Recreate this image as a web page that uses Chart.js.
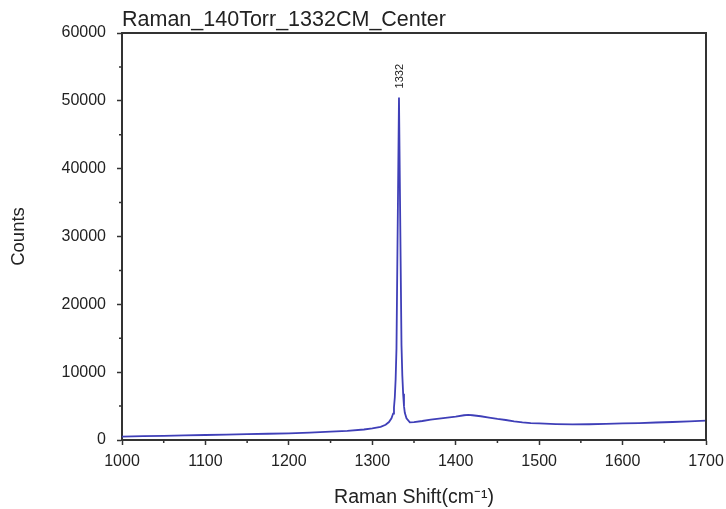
<!DOCTYPE html>
<html lang="en">
<head>
    <meta charset="UTF-8">
    <title>Raman_140Torr_1332CM_Center</title>
    <script src="https://cdn.jsdelivr.net/npm/chart.js"></script>
    <style>
        body { margin: 0; background: #fff; }
        #wrap { width: 726px; height: 509px; }
    </style>
</head>
<body>
    <div id="wrap">
        <canvas id="ramanChart" width="726" height="509"></canvas>
    </div>

    <script>
        // Spectrum
        const ramanShift = [1000, 1025, 1050, 1075, 1100, 1125, 1150, 1175, 1200, 1225, 1250, 1270, 1290, 1300,
            1310, 1316, 1320, 1323, 1325, 1326, 1327, 1328, 1329, 1332, 1335, 1336, 1337, 1338, 1339, 1341,
            1345, 1350, 1360, 1370, 1380, 1390, 1400, 1410, 1415, 1420, 1430, 1440, 1450, 1460, 1470, 1480,
            1490, 1500, 1520, 1540, 1560, 1580, 1600, 1620, 1640, 1660, 1680, 1700];
        const counts = [500, 560, 620, 680, 740, 800, 860, 920, 990, 1090, 1220, 1350, 1550, 1700,
            1950, 2250, 2650, 3200, 3900, 4800, 6300, 9000, 13500, 50500, 14000, 9500, 6800, 5000, 4000, 3200,
            2600, 2650, 2800, 3000, 3150, 3300, 3450, 3650, 3700, 3650, 3500, 3300, 3100, 2950, 2750, 2600,
            2500, 2450, 2350, 2300, 2320, 2380, 2450, 2500, 2580, 2650, 2750, 2850];

        const chartTitle = 'Raman_140Torr_1332CM_Center';
        const peakPos = 1332;
        const peakLabel = '1332';
        const minorX = [1050, 1150, 1250, 1350, 1450, 1550, 1650];
        const minorY = [5000, 15000, 25000, 35000, 45000, 55000];

        const fontFam = '"Liberation Sans", Arial, sans-serif';
        const axisColor = '#333';
        const textColor = '#222';

        // frame, minor ticks, title and peak label
        const extras = {
            id: 'extras',
            afterDraw(chart) {
                const { ctx, chartArea: a, scales: { x, y } } = chart;
                ctx.save();
                ctx.strokeStyle = axisColor;
                ctx.lineWidth = 2;
                ctx.beginPath();
                ctx.moveTo(a.left, a.top);
                ctx.lineTo(a.right, a.top);
                ctx.lineTo(a.right, a.bottom);
                ctx.stroke();

                ctx.lineWidth = 1.5;
                ctx.beginPath();
                minorX.forEach(v => {
                    const px = x.getPixelForValue(v);
                    ctx.moveTo(px, a.bottom);
                    ctx.lineTo(px, a.bottom + 3);
                });
                minorY.forEach(v => {
                    const py = y.getPixelForValue(v);
                    ctx.moveTo(a.left, py);
                    ctx.lineTo(a.left - 3, py);
                });
                ctx.stroke();

                ctx.fillStyle = textColor;
                ctx.font = '21.5px ' + fontFam;
                ctx.textAlign = 'left';
                ctx.textBaseline = 'alphabetic';
                ctx.fillText(chartTitle, a.left, a.top - 7);

                const i = ramanShift.indexOf(peakPos);
                const px = x.getPixelForValue(peakPos);
                const py = y.getPixelForValue(counts[i]);
                ctx.translate(px + 1, py - 9);
                ctx.rotate(-Math.PI / 2);
                ctx.font = '11px ' + fontFam;
                ctx.textBaseline = 'middle';
                ctx.fillText(peakLabel, 0, 0);
                ctx.restore();
            }
        };

        new Chart(document.getElementById('ramanChart'), {
            type: 'line',
            data: {
                datasets: [{
                    data: ramanShift.map((v, i) => ({ x: v, y: counts[i] })),
                    borderColor: '#3f3fb8',
                    borderWidth: 1.8,
                    pointRadius: 0,
                    tension: 0,
                    fill: false
                }]
            },
            options: {
                responsive: false,
                animation: false,
                layout: { padding: { top: 33, right: 20, bottom: 0, left: 0 } },
                plugins: {
                    legend: { display: false },
                    tooltip: { enabled: false }
                },
                scales: {
                    x: {
                        type: 'linear',
                        min: 1000,
                        max: 1700,
                        afterFit: s => { s.height = 69; s.paddingLeft = 0; s.paddingRight = 0; },
                        border: { color: axisColor, width: 2 },
                        grid: { drawOnChartArea: false, tickLength: 5, tickColor: axisColor, tickWidth: 1.5 },
                        ticks: {
                            stepSize: 100, color: textColor, padding: 7, maxRotation: 0,
                            font: { family: fontFam, size: 16 },
                            callback: v => String(v)
                        },
                        title: {
                            display: true,
                            text: 'Raman Shift(cm\u207B\u00B9)',
                            color: textColor,
                            font: { family: fontFam, size: 19.5 },
                            padding: { top: 0, bottom: 0 }
                        }
                    },
                    y: {
                        min: 0,
                        max: 60000,
                        afterFit: s => { s.width = 122; },
                        border: { color: axisColor, width: 2 },
                        grid: { drawOnChartArea: false, tickLength: 5, tickColor: axisColor, tickWidth: 1.5 },
                        ticks: {
                            stepSize: 10000, color: textColor, padding: 11,
                            font: { family: fontFam, size: 16 },
                            callback: v => String(v)
                        },
                        title: {
                            display: true,
                            text: 'Counts',
                            color: textColor,
                            font: { family: fontFam, size: 18.5 },
                            padding: { top: 8, bottom: 0 }
                        }
                    }
                }
            },
            plugins: [extras]
        });
    </script>
</body>
</html>
